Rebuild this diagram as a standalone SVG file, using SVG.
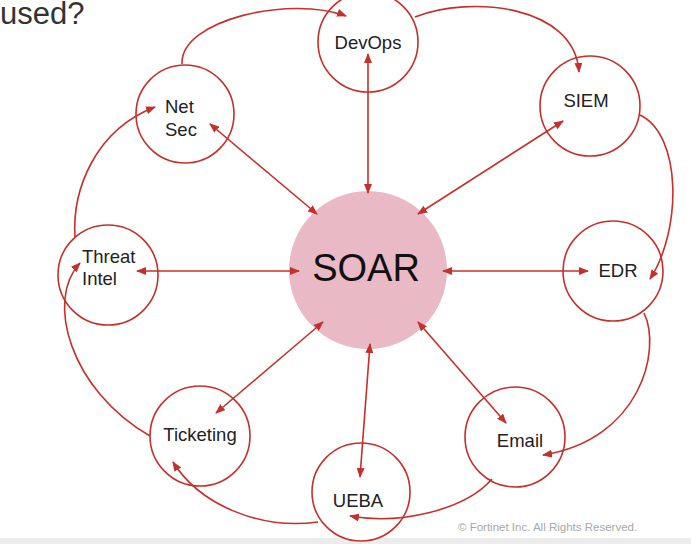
<svg xmlns="http://www.w3.org/2000/svg" width="691" height="544" viewBox="0 0 691 544">
<style>
.node{fill:#ffffff;stroke:#c4302b;stroke-width:1.6}
.lbl{font-family:"Liberation Sans",Arial,sans-serif;font-size:18.5px;fill:#222222}
.c{text-anchor:middle}
.con{fill:none;stroke:#c4302b;stroke-width:1.6}
.two{marker-start:url(#ah);marker-end:url(#ah)}
.one{marker-end:url(#ah)}
</style>
<defs>
<marker id="ah" markerUnits="userSpaceOnUse" markerWidth="10" markerHeight="8" viewBox="0 0 10 8" refX="9" refY="4" orient="auto-start-reverse">
<path d="M0,0 L10,4 L0,8 Z" fill="#c4302b"/>
</marker>
</defs>
<rect x="0" y="0" width="691" height="544" fill="#ffffff"/>
<rect x="0" y="538" width="691" height="6" fill="#ececec"/>
<text x="0" y="24" style="font-family:'Liberation Sans',Arial,sans-serif;font-size:31px;fill:#333333">used?</text>
<text x="458" y="531" style="font-family:'Liberation Sans',Arial,sans-serif;font-size:11.5px;fill:#a8a8a8">© Fortinet Inc. All Rights Reserved.</text>

<g id="soar">
<circle cx="368" cy="270" r="79" fill="#e9b9c6"/>
<text x="366" y="281" class="c" style="font-family:'Liberation Sans',Arial,sans-serif;font-size:38px;fill:#111111">SOAR</text>
</g>
<g id="devops"><circle class="node" cx="368" cy="42" r="50"/><text class="lbl c" x="368" y="49">DevOps</text></g>
<g id="siem"><circle class="node" cx="590" cy="106" r="50"/><text class="lbl c" x="586" y="107">SIEM</text></g>
<g id="edr"><circle class="node" cx="613" cy="271" r="50"/><text class="lbl c" x="618" y="277">EDR</text></g>
<g id="email"><circle class="node" cx="515" cy="437" r="50"/><text class="lbl c" x="520" y="447">Email</text></g>
<g id="ueba"><circle class="node" cx="361" cy="492" r="49"/><text class="lbl c" x="358" y="507">UEBA</text></g>
<g id="ticketing"><circle class="node" cx="200" cy="436" r="50"/><text class="lbl c" x="200" y="441">Ticketing</text></g>
<g id="threat-intel"><circle class="node" cx="108" cy="275" r="50"/><text class="lbl" x="82" y="263">Threat</text><text class="lbl" x="82" y="285">Intel</text></g>
<g id="net-sec"><circle class="node" cx="185" cy="114" r="49"/><text class="lbl" x="165" y="113">Net</text><text class="lbl" x="165" y="136">Sec</text></g>

<g id="connectors">
<line class="con two" x1="368" y1="54" x2="368" y2="193"/>
<line class="con two" x1="563" y1="121" x2="418" y2="214"/>
<line class="con two" x1="443" y1="271" x2="588" y2="271"/>
<line class="con two" x1="418" y1="322" x2="506" y2="423"/>
<line class="con two" x1="370" y1="344" x2="360" y2="477"/>
<line class="con two" x1="323" y1="322" x2="216" y2="413"/>
<line class="con two" x1="137" y1="271" x2="299" y2="271"/>
<line class="con two" x1="210" y1="124" x2="317" y2="214"/>

<path class="con one" d="M182,64 C180,20 290,-5 346,16"/>
<path class="con one" d="M415,17 C470,-5 575,5 579,72"/>
<path class="con one" d="M640,115 C682,135 682,230 650,279"/>
<path class="con one" d="M644,313 C662,350 640,440 543,455"/>
<path class="con one" d="M492,479 C465,510 400,525 350,516"/>
<path class="con one" d="M318,522 C260,530 200,505 173,462"/>
<path class="con one" d="M150,436 C70,390 45,300 80,263"/>
<path class="con one" d="M75,237 C72,190 95,130 155,107"/>
</g>
</svg>
